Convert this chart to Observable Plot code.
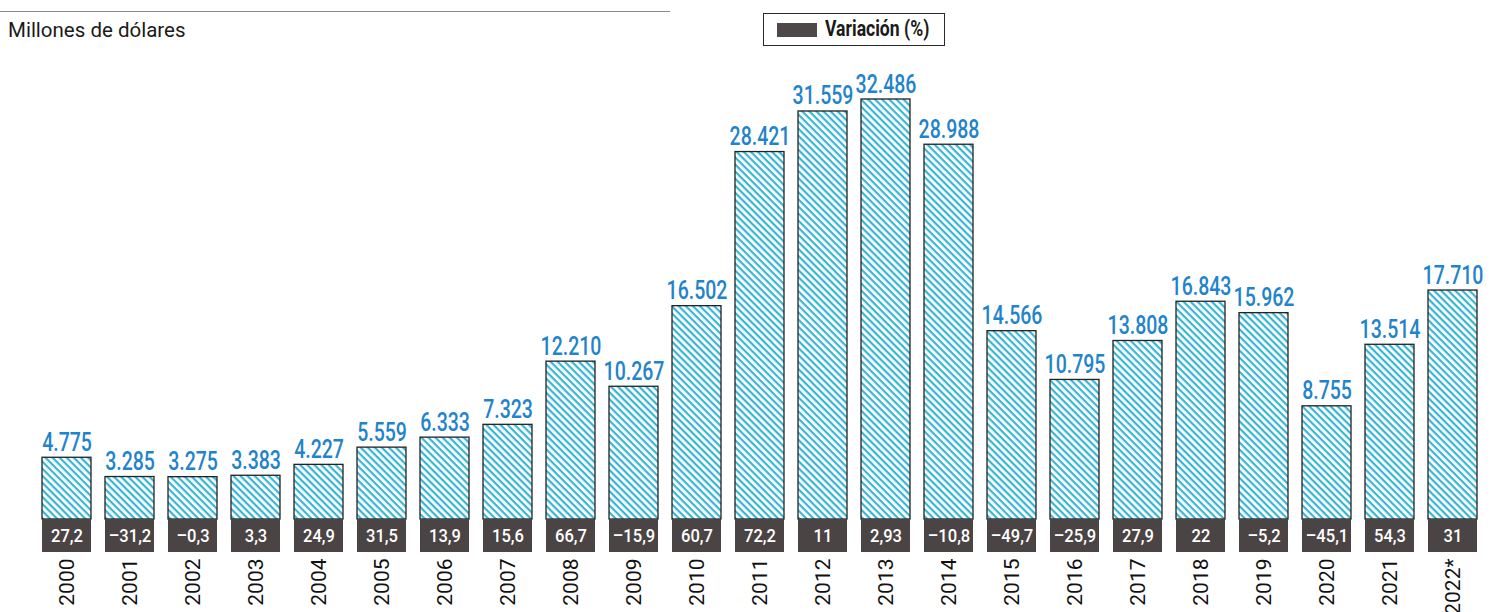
<!DOCTYPE html>
<html>
<head>
<meta charset="utf-8">
<script src="https://cdn.jsdelivr.net/npm/d3@7"></script>
<script src="https://cdn.jsdelivr.net/npm/@observablehq/plot@0.6"></script>
<style>
  html, body { margin: 0; padding: 0; background: #fff; }
  #wrap { width: 1491px; height: 612px; position: relative; overflow: hidden; }
  #header { position: relative; height: 50px; }
  #rule { position: absolute; left: 0; top: 11px; width: 670px; border-top: 1px solid #8a8a8a; }
  #title { position: absolute; left: 8px; top: 18px; font-family: Roboto, sans-serif; font-size: 20.5px; color: #1a1a1a; white-space: nowrap; }
  #legend { position: absolute; left: 763px; top: 13px; width: 180px; height: 31px; border: 1.5px solid #2a2a2a; box-sizing: content-box; }
  #legend .sw { position: absolute; left: 13px; top: 9px; width: 40px; height: 14px; background: #4f4848; }
  #legend .lb { position: absolute; left: 61px; top: 2px; font-family: Roboto, sans-serif; font-weight: bold; font-size: 22px; line-height: 26px; color: #1a1a1a; white-space: nowrap; transform: scaleX(0.8); transform-origin: 0 50%; }
  #chart svg { display: block; }
</style>
</head>
<body>
<div id="wrap">
  <div id="header">
    <div id="rule"></div>
    <div id="title">Millones de dólares</div>
    <div id="legend"><div class="sw"></div><div class="lb">Variación (%)</div></div>
  </div>
  <div id="chart"></div>
</div>
<script>
const years = ["2000","2001","2002","2003","2004","2005","2006","2007","2008","2009","2010","2011","2012","2013","2014","2015","2016","2017","2018","2019","2020","2021","2022*"];
const values = [4775, 3285, 3275, 3383, 4227, 5559, 6333, 7323, 12210, 10267, 16502, 28421, 31559, 32486, 28988, 14566, 10795, 13808, 16843, 15962, 8755, 13514, 17710];
const variation = [27.2, -31.2, -0.3, 3.3, 24.9, 31.5, 13.9, 15.6, 66.7, -15.9, 60.7, 72.2, 11, 2.93, -10.8, -49.7, -25.9, 27.9, 22, -5.2, -45.1, 54.3, 31];

const data = years.map((year, i) => ({year, value: values[i], variation: variation[i]}));

const fmtValue = n => String(n).replace(/\B(?=(\d{3})+(?!\d))/g, ".");
const fmtVar = v => (v < 0 ? "\u2013" : "") + String(Math.abs(v)).replace(".", ",");

const chart = Plot.plot({
  width: 1491,
  height: 562,
  marginTop: 49,
  marginBottom: 93,
  marginLeft: 0,
  marginRight: 0,
  x: {domain: years, range: [20.4, 1499], padding: 0.23, axis: null},
  y: {domain: [0, d3.max(values)], axis: null},
  marks: [
    Plot.barY(data, {x: "year", y: "value", fill: "url(#hatch)", stroke: "#222", strokeWidth: 1.3}),
    Plot.barY(data, {x: "year", y1: 0, y2: 0, insetBottom: -33, fill: "#4b4444"}),
    Plot.text(data, {x: "year", y: 0, text: d => fmtVar(d.variation), dy: 17, fill: "#fff", fontSize: 18, fontFamily: "Roboto, sans-serif", fontWeight: 500, className: "varlabel"}),
    Plot.text(data, {x: "year", y: "value", text: d => fmtValue(d.value), dy: -7, lineAnchor: "bottom", fill: "#1f84cb", fontSize: 25, fontFamily: "Roboto, sans-serif", fontWeight: 500, className: "vlabel"}),
    Plot.text(data, {x: "year", y: 0, text: "year", rotate: -90, textAnchor: "end", lineAnchor: "middle", dy: 39, fill: "#111", fontSize: 21, fontFamily: "Roboto, sans-serif"})
  ]
});

function squeeze(sel, s) {
  sel.each(function() {
    const t = this.getAttribute("transform");
    if (t) {
      this.setAttribute("transform", t + ` scale(${s},1)`);
    } else {
      const x = +this.getAttribute("x") || 0, y = +this.getAttribute("y") || 0;
      this.removeAttribute("x"); this.removeAttribute("y");
      this.setAttribute("transform", `translate(${x},${y}) scale(${s},1)`);
    }
  });
}

const svg = d3.select(chart);
squeeze(svg.selectAll(".vlabel text"), 0.78);
squeeze(svg.selectAll(".varlabel text"), 0.92);

const defs = svg.insert("defs", ":first-child");
const pat = defs.append("pattern")
  .attr("id", "hatch")
  .attr("patternUnits", "userSpaceOnUse")
  .attr("width", 5)
  .attr("height", 5)
  .attr("patternTransform", "rotate(45)");
pat.append("rect").attr("width", 5).attr("height", 5).attr("fill", "#fff");
pat.append("rect").attr("width", 5).attr("height", 2.2).attr("fill", "#38b5d5");

document.getElementById("chart").appendChild(chart);
</script>
</body>
</html>
